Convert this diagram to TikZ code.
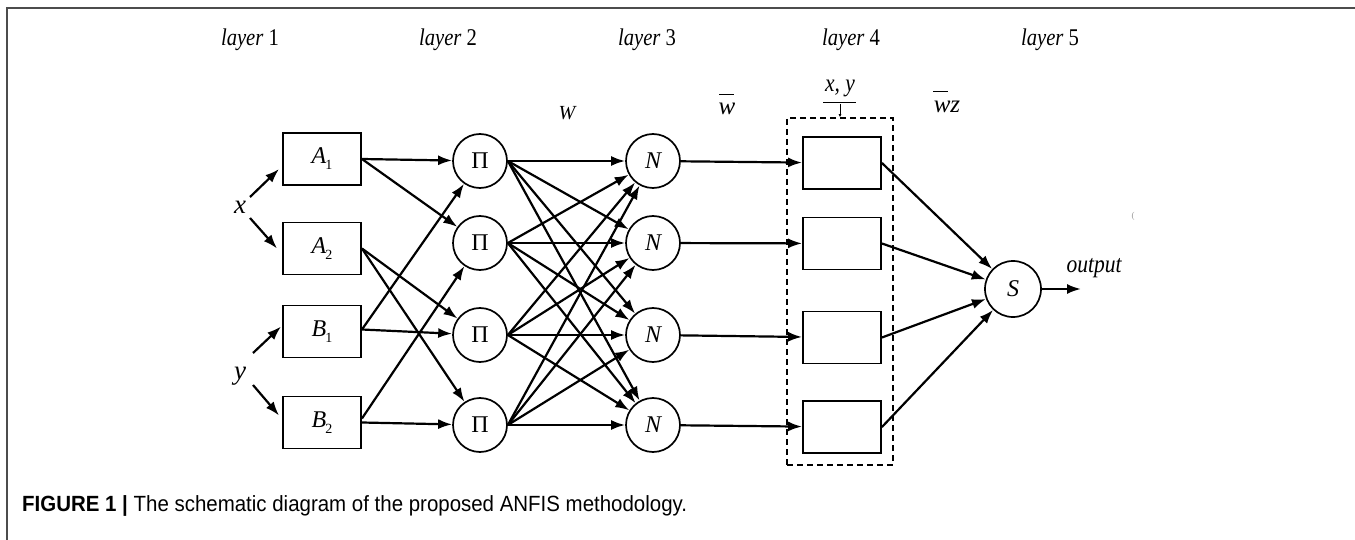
\documentclass[tikz,border=0pt]{standalone}
\usepackage{fontspec}
\setmainfont{Liberation Serif}
\setsansfont{Liberation Sans}
\usetikzlibrary{arrows.meta}
\newcommand{\cond}[1]{\scalebox{0.86}[1]{#1}}
\begin{document}
\begin{tikzpicture}[x=1pt,y=-1pt,
  lbl/.style={font=\fontsize{24}{28}\selectfont},
  it/.style={font=\fontsize{25}{28}\selectfont\itshape},
  mf/.style={draw, line width=1.9pt, minimum width=78pt, minimum height=52pt, inner sep=0pt, font=\fontsize{24}{28}\selectfont\itshape},
  cnode/.style={draw, circle, line width=1.7pt, minimum size=54pt, inner sep=0pt, font=\fontsize{24}{28}\selectfont},
  arr/.style={line width=2.2pt, -{Latex[length=14pt,width=10pt]}},
  frame/.style={line width=2pt, draw=black!70}
]
\useasboundingbox (0,0) rectangle (1355,540);
\draw[frame] (1355,8) -- (7,8) -- (7,540);

% layer labels
\node[lbl] (l1) at (250,40) {\cond{\textit{layer} 1}};
\node[lbl] (l2) at (448,40) {\cond{\textit{layer} 2}};
\node[lbl] (l3) at (647,40) {\cond{\textit{layer} 3}};
\node[lbl] (l4) at (851,40) {\cond{\textit{layer} 4}};
\node[lbl] (l5) at (1050,40) {\cond{\textit{layer} 5}};

% layer 1
\node[mf] (a1) at (322,159) {A\kern-1pt\raisebox{-6pt}{\upshape\fontsize{14}{14}\selectfont 1}};
\node[mf] (a2) at (322,248.5) {A\kern-1pt\raisebox{-6pt}{\upshape\fontsize{14}{14}\selectfont 2}};
\node[mf] (b1) at (322,331.5) {B\kern-1pt\raisebox{-6pt}{\upshape\fontsize{14}{14}\selectfont 1}};
\node[mf] (b2) at (322,422.5) {B\kern-1pt\raisebox{-6pt}{\upshape\fontsize{14}{14}\selectfont 2}};

\node[it,font=\fontsize{27}{28}\selectfont\itshape] (xl) at (240,207) {x};
\node[it,font=\fontsize{27}{28}\selectfont\itshape] (yl) at (240,376) {y};
\coordinate (xs1) at (250,197);
\coordinate (xs2) at (250,218);
\coordinate (ys1) at (253,353);
\coordinate (ys2) at (253,385);
\draw[arr] (xs1) -- ([yshift=-10pt,xshift=-3pt]a1.west);
\draw[arr] (xs2) -- ([xshift=-5pt]a2.west);
\draw[arr] (ys1) -- ([yshift=5pt,xshift=-1pt]b1.west);
\draw[arr] (ys2) -- ([yshift=7pt,xshift=-3pt]b2.west);

% layer 2 and 3
\foreach \i/\y in {1/161,2/243,3/335,4/425}{
  \node[cnode] (p\i) at (480,\y) {Π};
  \node[cnode,font=\fontsize{24}{28}\selectfont\itshape] (n\i) at (653,\y) {N};
}

\draw[arr] (a1.east) -- (p1);
\draw[arr] (a1.east) -- (p2);
\draw[arr] (a2.east) -- (p3);
\draw[arr] (a2.east) -- (p4);
\draw[arr] ([yshift=2pt]b1.east) -- (p1);
\draw[arr] ([yshift=2pt]b1.east) -- (p3);
\draw[arr] ([yshift=4pt]b2.east) -- (p2);
\draw[arr] (b2.east) -- (p4);

\foreach \i in {1,...,4}{
  \foreach \j in {1,...,4}{
    \draw[arr] (p\i.east) -- (n\j);
  }
}

\node[it,font=\fontsize{20}{24}\selectfont\itshape] (W) at (567,113) {W};
\node[it] (wb) at (727,109) {w};
\draw[line width=1pt] (719,95) -- (734,95);

% layer 4
\node[draw, dashed, dash pattern=on 6pt off 4pt, line width=1.6pt, minimum width=106pt, minimum height=347pt, inner sep=0pt] (grp) at (840,291.5) {};
\node[it] (xy) at (840,88) {\cond{x, y}};
\draw[line width=1pt] (823,103) -- (856,103);
\coordinate (xyd) at (840,104);
\draw[line width=0.6pt, -{Latex[length=3pt,width=3pt]}] (xyd) -- (grp.north);

\node[mf] (c1) at (842,163) {};
\node[mf] (c2) at (842,243.5) {};
\node[mf] (c3) at (842,337.5) {};
\node[mf] (c4) at (842,427) {};

\draw[arr] (n1) -- (c1);
\draw[arr] (n2) -- (c2);
\draw[arr] (n3) -- (c3);
\draw[arr] (n4) -- (c4);

\node[it] (wz) at (947,107) {wz};
\draw[line width=1pt] (933,92) -- (948,92);

% layer 5
\node[cnode,minimum size=56pt,font=\fontsize{24}{28}\selectfont\itshape] (s) at (1013,289) {S};
\draw[arr] (c1.east) -- (s);
\draw[arr] (c2.east) -- (s);
\draw[arr] (c3.east) -- (s);
\draw[arr] (c4.east) -- (s);
\coordinate (out) at (1081,289);
\draw[arr] (s) -- (out);
\node[it] (ot) at (1094,268) {\cond{output}};
\node[font=\fontsize{9}{10}\selectfont, text=black!40] (stray) at (1133,216) {(};

% caption
\node[anchor=west, inner sep=0pt, font=\fontsize{22}{26}\sffamily\selectfont] (cap) at (22,506)
  {\scalebox{0.93}[1]{\textbf{FIGURE 1 |} The schematic diagram of the proposed ANFIS methodology.}};
\end{tikzpicture}
\end{document}
